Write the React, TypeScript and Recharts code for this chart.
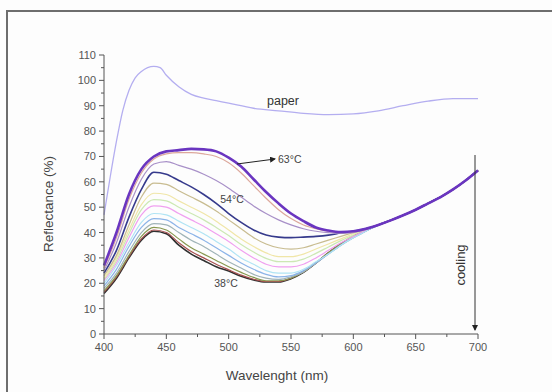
import React from 'react';
import { LineChart, Line, XAxis, YAxis } from 'recharts';

// wavelength grid of the thermochromic spectra (nm)
const wavelengths = [
  400, 410, 420, 430, 440, 450, 460, 470, 480, 490, 500, 510, 520, 530, 540, 550,
  560, 570, 580, 590, 600, 610, 620, 630, 640, 650, 660, 670, 680, 690, 700,
];

// reflectance (%) per curve, hottest first
const t63 = [27, 40, 55, 65, 70, 72, 72.5, 73, 72.8, 72, 69.5, 66, 61, 56, 51.5, 47.5, 44.5, 42, 40.8, 40.2, 40.5, 41.5, 43, 44.8, 46.8, 49, 51.5, 54, 57, 60.5, 64.5];
const t61 = [26, 38, 53, 63.5, 69, 71, 71.5, 71.5, 71, 70, 67.5, 63.5, 58.5, 53.5, 49, 45.5, 43, 41.5, 40.5, 40, 40.3, 41.3, 43, 44.8, 46.8, 49, 51.5, 54, 57, 60.5, 64.5];
const t58 = [25, 36, 50, 61, 67, 68, 66.5, 65, 63, 60.5, 57.5, 54, 50.5, 47.5, 45, 43, 41.5, 40.5, 40, 39.8, 40, 41.2, 43, 44.8, 46.8, 49, 51.5, 54, 57, 60.5, 64.5];
const t54 = [24, 33, 46, 57, 63.8, 63, 60.5, 58, 55, 51.5, 47.5, 44, 41, 39, 38.2, 38, 38.2, 38.5, 39, 39.8, 40.5, 41.5, 43, 44.8, 46.8, 49, 51.5, 54, 57, 60.5, 64.5];
const t52 = [23, 31, 43, 54, 59.5, 59, 56.5, 54, 51.5, 48.5, 45, 41.5, 38, 35.5, 34, 33.5, 34, 35.5, 37, 38.5, 40, 41.5, 43, 44.8, 46.8, 49, 51.5, 54, 57, 60.5, 64.5];
const t50 = [22, 30, 41, 51, 55.5, 55, 52.5, 50, 47.5, 44.5, 41, 37.5, 34.5, 32, 30.5, 30.5, 31.5, 33.5, 35.5, 37.5, 39.5, 41.5, 43, 44.8, 46.8, 49, 51.5, 54, 57, 60.5, 64.5];
const t48 = [21.5, 29, 39.5, 49, 53, 52.5, 50, 47.5, 45, 42, 38.8, 35.3, 32.3, 29.8, 28.5, 28.5, 29.5, 31.8, 34.3, 36.8, 39, 41.3, 43, 44.8, 46.8, 49, 51.5, 54, 57, 60.5, 64.5];
const t46 = [21, 28, 38, 47, 50.5, 50, 47.5, 45, 42.5, 39.5, 36.5, 33, 30, 27.5, 26.5, 26.5, 27.5, 30, 33, 36, 38.5, 41, 43, 44.8, 46.8, 49, 51.5, 54, 57, 60.5, 64.5];
const t44 = [20, 27, 36, 44, 47.5, 47, 44.5, 42, 39.5, 36.5, 33.5, 30, 27.5, 25, 24, 24, 25.5, 28.5, 31.5, 35, 38, 40.5, 43, 44.8, 46.8, 49, 51.5, 54, 57, 60.5, 64.5];
const t42 = [19, 25.5, 34.5, 42, 45.5, 45, 42, 39.5, 37, 34, 31, 28, 25.5, 23.5, 22.5, 23, 25, 28, 31.5, 35, 38, 40.5, 43, 44.8, 46.8, 49, 51.5, 54, 57, 60.5, 64.5];
const t41 = [18, 24, 32.5, 40, 43.5, 43, 40, 37, 34.5, 31.5, 28.5, 26, 23.5, 22, 21.5, 22.5, 24.5, 28, 31.5, 35, 38, 40.5, 43, 44.8, 46.8, 49, 51.5, 54, 57, 60.5, 64.5];
const t40 = [17, 23, 31, 38.5, 42, 41, 37.5, 34, 31.5, 29, 26.5, 24.3, 22.3, 21, 21, 22, 24.5, 28, 32, 35.5, 38.5, 40.8, 43, 44.8, 46.8, 49, 51.5, 54, 57, 60.5, 64.5];
const t39 = [16.5, 22.5, 30.5, 37.5, 41, 40, 36, 32.5, 30, 27.5, 25.3, 23.2, 21.6, 20.7, 20.7, 22, 24.5, 28, 32, 35.5, 38.5, 40.8, 43, 44.8, 46.8, 49, 51.5, 54, 57, 60.5, 64.5];
const t38 = [16, 22, 30, 37, 40.5, 39.5, 35, 31.5, 29, 26.5, 24.8, 22.8, 21.3, 20.5, 20.5, 21.8, 24.3, 28, 32, 35.5, 38.5, 40.8, 43, 44.8, 46.8, 49, 51.5, 54, 57, 60.5, 64.5];

const curves = [
  { key: 't63', values: t63, color: '#6a35c0', width: 2.6 },
  { key: 't61', values: t61, color: '#dca89c', width: 1.2 },
  { key: 't58', values: t58, color: '#a890c8', width: 1.2 },
  { key: 't54', values: t54, color: '#363a8c', width: 1.6 },
  { key: 't52', values: t52, color: '#c8bc90', width: 1.2 },
  { key: 't50', values: t50, color: '#f0e6a8', width: 1.2 },
  { key: 't48', values: t48, color: '#cce8b4', width: 1.2 },
  { key: 't46', values: t46, color: '#f0a0f0', width: 1.2 },
  { key: 't44', values: t44, color: '#b0e4f4', width: 1.2 },
  { key: 't42', values: t42, color: '#8cb4e8', width: 1.2 },
  { key: 't41', values: t41, color: '#a0b4b8', width: 1.2 },
  { key: 't40', values: t40, color: '#889850', width: 1.2 },
  { key: 't39', values: t39, color: '#a85050', width: 1.2 },
  { key: 't38', values: t38, color: '#303030', width: 1.6 },
];

// plain paper reference
const paperWavelengths = [400, 405, 410, 415, 420, 425, 430, 435, 440, 445, 450, 460, 470, 480, 490, 500, 520, 540, 560, 580, 600, 620, 640, 660, 680, 700];
const paperValues = [47, 62, 76, 88, 96, 101, 103.5, 105, 105.5, 105, 102, 97.5, 94.5, 93, 92, 91, 89, 88, 87, 86.5, 86.8, 88, 90, 91.8, 92.8, 92.8];

const xTicks = [400, 425, 450, 475, 500, 525, 550, 575, 600, 625, 650, 675, 700];
const yTicks = [0, 5, 10, 15, 20, 25, 30, 35, 40, 45, 50, 55, 60, 65, 70, 75, 80, 85, 90, 95, 100, 105, 110];

const rows = wavelengths.map((wl, i) => {
  const r: any = { wl };
  curves.forEach((c) => (r[c.key] = c.values[i]));
  return r;
});
const paperRows = paperWavelengths.map((wl, i) => ({ wl, paper: paperValues[i] }));

const font = '"Liberation Sans", Arial, sans-serif';
const ink = '#555';

const YTick = (props: any) => {
  const { x, y, payload } = props;
  const major = payload.value % 10 === 0;
  return (
    <g>
      <line x1={x} x2={x - (major ? 5 : 3)} y1={y} y2={y} stroke={ink} />
      {major && (
        <text x={x - 8} y={y} dy={4} textAnchor="end" fontSize={11} fill={ink} fontFamily={font}>
          {payload.value}
        </text>
      )}
    </g>
  );
};

const XTick = (props: any) => {
  const { x, y, payload } = props;
  const major = payload.value % 50 === 0;
  return (
    <g>
      <line x1={x} x2={x} y1={y} y2={y + (major ? 5 : 3)} stroke={ink} />
      {major && (
        <text x={x} y={y + 17} textAnchor="middle" fontSize={11} fill={ink} fontFamily={font}>
          {payload.value}
        </text>
      )}
    </g>
  );
};

export default function App() {
  return (
    <div style={{ position: 'absolute', left: 0, top: 0, width: 552, height: 392, background: '#fdfdfd' }}>
      <div
        style={{
          position: 'absolute', left: 6, top: 10, width: 546, height: 382,
          borderTop: '2px solid #6e6e6e', borderLeft: '2px solid #6e6e6e', boxSizing: 'border-box',
        }}
      />
      <LineChart width={552} height={392} margin={{ top: 55, right: 74, bottom: 28, left: 0 }} data={rows}>
        <XAxis
          dataKey="wl"
          type="number"
          domain={[400, 700]}
          ticks={xTicks}
          interval={0}
          tickSize={0}
          tickMargin={0}
          tick={<XTick />}
          height={30}
          stroke={ink}
          allowDuplicatedCategory={false}
        />
        <YAxis
          type="number"
          domain={[0, 110]}
          ticks={yTicks}
          interval={0}
          tickSize={0}
          tickMargin={0}
          tick={<YTick />}
          width={104}
          stroke={ink}
        />
        <Line
          data={paperRows}
          dataKey="paper"
          type="monotone"
          stroke="#b4aef0"
          strokeWidth={1.3}
          dot={false}
          isAnimationActive={false}
        />
        {curves
          .slice()
          .reverse()
          .map((c) => (
            <Line
              key={c.key}
              dataKey={c.key}
              type="monotone"
              stroke={c.color}
              strokeWidth={c.width}
              dot={false}
              isAnimationActive={false}
            />
          ))}
      </LineChart>
      <svg
        width={552}
        height={392}
        style={{ position: 'absolute', left: 0, top: 0, pointerEvents: 'none' }}
        fontFamily={font}
      >
        <defs>
          <marker id="ah" markerWidth="6" markerHeight="6" refX="5" refY="3" orient="auto">
            <path d="M0,0 L6,3 L0,6 z" fill="#222" />
          </marker>
        </defs>
        <text x={49} y={204} transform="rotate(-90 49 204)" textAnchor="middle" dominantBaseline="middle" fontSize={13.5} fill="#444">
          Reflectance (%)
        </text>
        <text x={277} y={380} textAnchor="middle" fontSize={13.5} fill="#444">
          Wavelenght (nm)
        </text>
        <text x={283} y={105} textAnchor="middle" fontSize={12.5} fill="#333">
          paper
        </text>
        <line x1={237} y1={164} x2={275} y2={159} stroke="#222" strokeWidth={1} markerEnd="url(#ah)" />
        <text x={278} y={163} fontSize={10.5} fill="#444">63°C</text>
        <text x={232} y={203} textAnchor="middle" fontSize={10.5} fill="#444">54°C</text>
        <text x={226} y={287} textAnchor="middle" fontSize={10.5} fill="#444">38°C</text>
        <line x1={475} y1={155} x2={475} y2={330} stroke="#333" strokeWidth={1} markerEnd="url(#ah)" />
        <text x={462} y={265} transform="rotate(-90 462 265)" textAnchor="middle" dominantBaseline="middle" fontSize={13} fill="#333">
          cooling
        </text>
      </svg>
    </div>
  );
}
